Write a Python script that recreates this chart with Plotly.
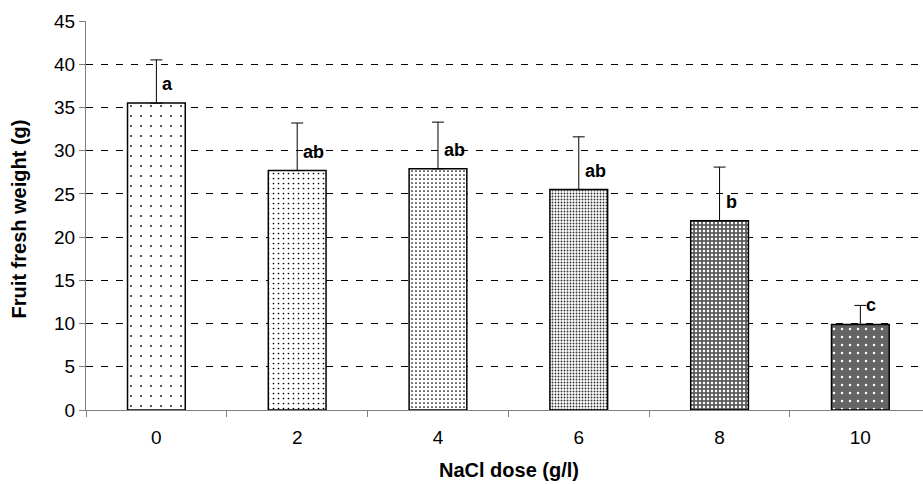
import plotly.graph_objects as go

# NaCl dose (g/l) and mean fruit fresh weight (g) with standard error
doses = ["0", "2", "4", "6", "8", "10"]
mean_weight = [35.5, 27.7, 27.9, 25.5, 21.9, 9.9]
error_up = [5.0, 5.5, 5.4, 6.1, 6.2, 2.2]
letters = ["a", "ab", "ab", "ab", "b", "c"]

y_ticks = list(range(0, 46, 5))

# fill textures, lightest to darkest
pat_size = [10, 5, 4, 3, 4, 8]
pat_solid = [0.025, 0.09, 0.14, 0.3, 0.3, 0.08]
pat_fg = ["#000000", "#000000", "#000000", "#303030", "#ffffff", "#ffffff"]
pat_bg = ["#ffffff", "#ffffff", "#ffffff", "#ffffff", "#5e5e5e", "#646464"]

FONT = "Liberation Sans, Arial, sans-serif"

fig = go.Figure()
fig.add_trace(go.Bar(
    x=doses,
    y=mean_weight,
    marker=dict(
        color="#ffffff",
        line=dict(color="#000000", width=1.5),
        pattern=dict(
            shape=["."] * len(doses),
            size=pat_size,
            solidity=pat_solid,
            fgcolor=pat_fg,
            bgcolor=pat_bg,
            fillmode="replace",
        ),
    ),
    error_y=dict(
        type="data",
        symmetric=False,
        array=error_up,
        arrayminus=[0] * len(doses),
        color="#000000",
        thickness=1,
        width=6,
    ),
    showlegend=False,
))

annotations = []
# significance letters, placed just right of each error bar (category index on x)
for i, (m, lab) in enumerate(zip(mean_weight, letters)):
    annotations.append(dict(
        x=i, y=m, xref="x", yref="y", text=f"<b>{lab}</b>",
        showarrow=False, xanchor="left", yanchor="middle",
        xshift=4, yshift=19,
        font=dict(family=FONT, size=18, color="#000000"),
    ))

# axis titles
annotations.append(dict(
    x=0.505, y=0, xref="paper", yref="paper", text="<b>NaCl dose (g/l)</b>",
    showarrow=False, xanchor="center", yanchor="middle", yshift=-60,
    font=dict(family=FONT, size=20, color="#000000"),
))
annotations.append(dict(
    x=0, y=0.49, xref="paper", yref="paper", text="<b>Fruit fresh weight (g)</b>",
    showarrow=False, xanchor="center", yanchor="middle", xshift=-67,
    textangle=-90,
    font=dict(family=FONT, size=20, color="#000000"),
))

fig.update_layout(
    width=923, height=484,
    margin=dict(l=86, r=0, t=21, b=74),
    paper_bgcolor="#ffffff", plot_bgcolor="#ffffff",
    bargap=0.59,
    font=dict(family=FONT, size=19, color="#000000"),
    annotations=annotations,
    xaxis=dict(
        type="category",
        range=[-0.5, 5.445],
        tickson="boundaries",
        ticks="outside", ticklen=6, tickcolor="#808080",
        ticklabelstandoff=10,
        showline=True, linecolor="#808080", linewidth=1,
        showgrid=False, zeroline=False,
        tickfont=dict(family=FONT, size=19, color="#000000"),
    ),
    yaxis=dict(
        range=[0, 45],
        tickvals=y_ticks,
        ticks="outside", ticklen=6, tickcolor="#808080",
        showline=True, linecolor="#808080", linewidth=1,
        showgrid=True, gridcolor="#000000", gridwidth=1, griddash="7px,8px",
        zeroline=False,
        tickfont=dict(family=FONT, size=19, color="#000000"),
    ),
)

fig.write_html("out.html")
